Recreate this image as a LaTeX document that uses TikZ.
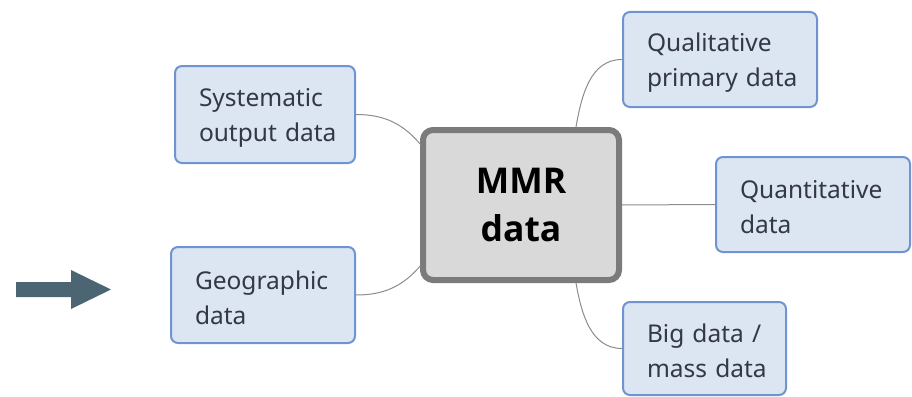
\documentclass[tikz,border=0pt]{standalone}
\usepackage{fontspec}
\setmainfont{Noto Sans}
\newfontfamily\hubfont{Open Sans}[BoldFont={* Bold}]
\definecolor{boxfill}{HTML}{DCE6F2}
\definecolor{boxline}{HTML}{6F94CF}
\definecolor{mainfill}{HTML}{D9D9D9}
\definecolor{mainline}{HTML}{7B7B7B}
\definecolor{txt}{HTML}{333844}
\definecolor{arrowc}{HTML}{4B6672}
\definecolor{conn}{HTML}{8C8C8C}
\begin{document}
\begin{tikzpicture}[x=1pt,y=-1pt,
  leaf/.style={draw=boxline,line width=2pt,fill=boxfill,rounded corners=7pt,
    inner xsep=12pt,inner ysep=0pt,align=left,text=txt,text height=24pt,
    execute at begin node={\leftskip=12pt},
    font=\fontsize{24.5}{35}\selectfont},
  hub/.style={draw=mainline,line width=6pt,fill=mainfill,rounded corners=10pt,
    align=center,font=\hubfont\bfseries\fontsize{35.5}{48}\selectfont,inner sep=0pt},
  link/.style={draw=conn,line width=1pt}]
\useasboundingbox (0,0) rectangle (912,396);
\node[hub,minimum width=196pt,minimum height=150pt] (mmr) at (521,205) {MMR\\data};
\node[leaf,text width=156pt,minimum height=97pt] (sys) at (265,114.5) {Systematic\\output data};
\node[leaf,text width=160pt,minimum height=96pt] (geo) at (263,295) {Geographic\\data};
\node[leaf,text width=170pt,minimum height=95pt] (qual) at (720,59.5) {Qualitative\\primary data};
\node[leaf,text width=170pt,minimum height=95pt] (quant) at (813,204.5) {Quantitative\\data};
\node[leaf,text width=139pt,minimum height=93pt] (big) at (704.5,348.5) {Big data /\\mass data};
\coordinate (mlt) at (421,145);
\coordinate (mlb) at (421,265);
\coordinate (mtq) at (576,127);
\coordinate (mbb) at (576,283);
\draw[link] (sys.east) to[out=0,in=130] (mlt);
\draw[link] (geo.east) to[out=0,in=-130] (mlb);
\draw[link] (mtq) to[out=80,in=180] (qual.west);
\draw[link] (mbb) to[out=-80,in=180] (big.west);
\draw[link] (mmr.east) -- (quant.west);
\fill[arrowc] (16,282) -- (71,282) -- (71,270) -- (111,289.5) -- (71,309) -- (71,297) -- (16,297) -- cycle;
\end{tikzpicture}
\end{document}
